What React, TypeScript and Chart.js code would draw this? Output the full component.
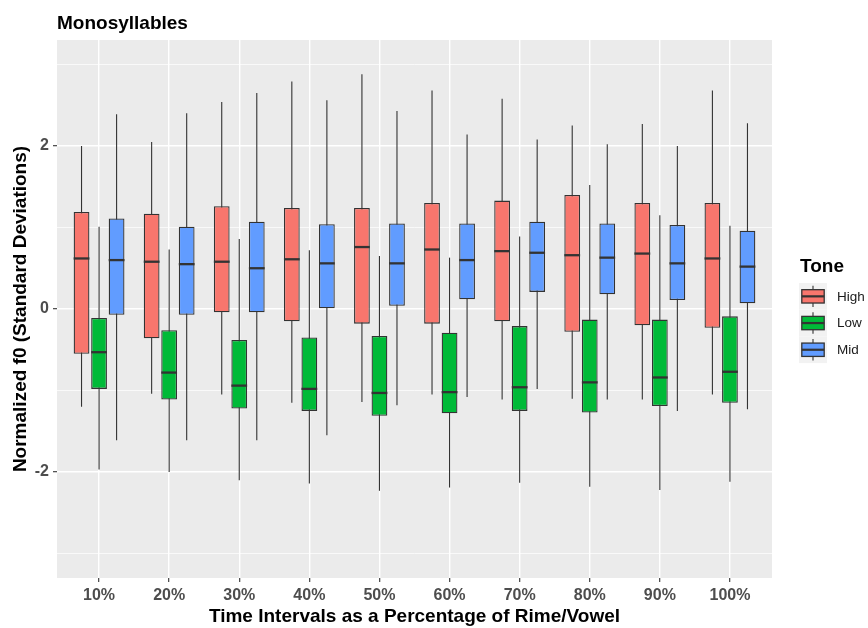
import React, { useEffect, useRef } from 'react';
import { Chart, registerables } from 'chart.js';

Chart.register(...registerables);

// Time points along the rime/vowel
const categories = ['10%', '20%', '30%', '40%', '50%', '60%', '70%', '80%', '90%', '100%'];
const tones = ['High', 'Low', 'Mid'];
const toneColors = ['#F8766D', '#00BA38', '#619CFF'];

// High tone: whisker ends, quartiles and median
const highLower = [-1.2, -1.04, -1.05, -1.15, -1.14, -1.05, -1.11, -1.1, -1.11, -1.05];
const highQ1 = [-0.55, -0.36, -0.04, -0.15, -0.18, -0.18, -0.15, -0.28, -0.2, -0.23];
const highMedian = [0.62, 0.58, 0.58, 0.61, 0.76, 0.73, 0.71, 0.66, 0.68, 0.62];
const highQ3 = [1.19, 1.17, 1.26, 1.24, 1.24, 1.3, 1.33, 1.4, 1.3, 1.3];
const highUpper = [2.0, 2.05, 2.54, 2.79, 2.88, 2.68, 2.58, 2.25, 2.27, 2.68];

// Low tone
const lowLower = [-1.97, -2.0, -2.1, -2.14, -2.23, -2.19, -2.13, -2.18, -2.22, -2.12];
const lowQ1 = [-0.98, -1.11, -1.22, -1.25, -1.31, -1.28, -1.25, -1.27, -1.19, -1.15];
const lowMedian = [-0.53, -0.78, -0.94, -0.98, -1.03, -1.02, -0.96, -0.9, -0.84, -0.77];
const lowQ3 = [-0.11, -0.26, -0.38, -0.35, -0.33, -0.29, -0.21, -0.13, -0.13, -0.09];
const lowUpper = [1.01, 0.73, 0.86, 0.72, 0.65, 0.63, 0.89, 1.52, 1.15, 1.02];

// Mid tone
const midLower = [-1.61, -1.61, -1.61, -1.55, -1.18, -1.08, -0.98, -1.11, -1.25, -1.23];
const midQ1 = [-0.07, -0.07, -0.04, 0.0, 0.04, 0.12, 0.21, 0.18, 0.11, 0.07];
const midMedian = [0.6, 0.55, 0.5, 0.56, 0.56, 0.6, 0.69, 0.63, 0.56, 0.52];
const midQ3 = [1.11, 1.01, 1.07, 1.04, 1.05, 1.05, 1.07, 1.05, 1.03, 0.96];
const midUpper = [2.39, 2.4, 2.65, 2.56, 2.43, 2.14, 2.08, 2.02, 2.0, 2.28];

// Y axis: gridlines every unit, labels on even values
const yTickValues = [-3, -2, -1, 0, 1, 2, 3];

const boxStats = [
  { lower: highLower, q1: highQ1, median: highMedian, q3: highQ3, upper: highUpper },
  { lower: lowLower, q1: lowQ1, median: lowMedian, q3: lowQ3, upper: lowUpper },
  { lower: midLower, q1: midQ1, median: midMedian, q3: midQ3, upper: midUpper },
];

const FONT = '"Liberation Sans", Arial, Helvetica, sans-serif';
const INK = '#333333';

// Grey panel behind the plotting area and the plot title
const panelPlugin = {
  id: 'panel',
  beforeDraw(chart: any) {
    const { ctx, chartArea } = chart;
    ctx.save();
    ctx.fillStyle = '#FFFFFF';
    ctx.fillRect(0, 0, chart.width, chart.height);
    ctx.fillStyle = '#EBEBEB';
    ctx.fillRect(chartArea.left, chartArea.top, chartArea.right - chartArea.left, chartArea.bottom - chartArea.top);
    ctx.restore();
  },
  afterDraw(chart: any) {
    const { ctx, chartArea } = chart;
    ctx.save();
    ctx.fillStyle = '#000000';
    ctx.font = `bold 19px ${FONT}`;
    ctx.textAlign = 'left';
    ctx.textBaseline = 'alphabetic';
    ctx.fillText('Monosyllables', chartArea.left, 29);
    ctx.restore();
  },
};

// Whiskers behind the boxes, medians on top of them
const boxPlotPlugin = {
  id: 'boxplot',
  beforeDatasetsDraw(chart: any) {
    const { ctx } = chart;
    const yScale = chart.scales.y;
    ctx.save();
    ctx.strokeStyle = INK;
    ctx.lineWidth = 1.1;
    chart.data.datasets.forEach((_: any, di: number) => {
      const meta = chart.getDatasetMeta(di);
      const s = boxStats[di];
      meta.data.forEach((bar: any, i: number) => {
        const { x } = bar.getProps(['x'], true);
        ctx.beginPath();
        ctx.moveTo(x, yScale.getPixelForValue(s.upper[i]));
        ctx.lineTo(x, yScale.getPixelForValue(s.lower[i]));
        ctx.stroke();
      });
    });
    ctx.restore();
  },
  afterDatasetsDraw(chart: any) {
    const { ctx } = chart;
    const yScale = chart.scales.y;
    ctx.save();
    ctx.strokeStyle = INK;
    ctx.lineWidth = 2.3;
    chart.data.datasets.forEach((_: any, di: number) => {
      const meta = chart.getDatasetMeta(di);
      const s = boxStats[di];
      meta.data.forEach((bar: any, i: number) => {
        const { x, width } = bar.getProps(['x', 'width'], true);
        const y = yScale.getPixelForValue(s.median[i]);
        ctx.beginPath();
        ctx.moveTo(x - width / 2, y);
        ctx.lineTo(x + width / 2, y);
        ctx.stroke();
      });
    });
    ctx.restore();
  },
};

// Legend with boxplot glyph keys
const toneLegendPlugin = {
  id: 'toneLegend',
  afterDraw(chart: any) {
    const { ctx } = chart;
    const left = 799;
    const top = 283;
    const keyW = 28;
    const keyH = 26.7;
    ctx.save();
    ctx.fillStyle = '#000000';
    ctx.font = `bold 19px ${FONT}`;
    ctx.textAlign = 'left';
    ctx.textBaseline = 'alphabetic';
    ctx.fillText('Tone', 800, 272);
    tones.forEach((tone, i) => {
      const ky = top + i * keyH;
      ctx.fillStyle = '#F2F2F2';
      ctx.fillRect(left, ky, keyW, keyH);
      const cx = left + keyW / 2;
      ctx.strokeStyle = INK;
      ctx.lineWidth = 1.1;
      ctx.beginPath();
      ctx.moveTo(cx, ky + keyH * 0.1);
      ctx.lineTo(cx, ky + keyH * 0.25);
      ctx.moveTo(cx, ky + keyH * 0.75);
      ctx.lineTo(cx, ky + keyH * 0.9);
      ctx.stroke();
      const bx = left + keyW * 0.1;
      const bw = keyW * 0.8;
      const by = ky + keyH * 0.25;
      const bh = keyH * 0.5;
      ctx.fillStyle = toneColors[i];
      ctx.fillRect(bx, by, bw, bh);
      ctx.lineWidth = 1.3;
      ctx.strokeRect(bx, by, bw, bh);
      ctx.lineWidth = 2.2;
      ctx.beginPath();
      ctx.moveTo(bx, ky + keyH / 2);
      ctx.lineTo(bx + bw, ky + keyH / 2);
      ctx.stroke();
      ctx.fillStyle = '#1A1A1A';
      ctx.font = `13.5px ${FONT}`;
      ctx.textBaseline = 'middle';
      ctx.fillText(tone, 837, ky + keyH / 2 + 0.5);
      ctx.textBaseline = 'alphabetic';
    });
    ctx.restore();
  },
};

export default function App() {
  const canvasRef = useRef<HTMLCanvasElement | null>(null);

  useEffect(() => {
    const canvas = canvasRef.current;
    if (!canvas) return;

    const datasets = boxStats.map((s, di) => ({
      label: tones[di],
      data: categories.map((_, i) => ({ x: i + 1, y: [s.q1[i], s.q3[i]] })),
      backgroundColor: toneColors[di],
      borderColor: INK,
      borderWidth: 1.3,
      borderSkipped: false,
      categoryPercentage: 0.75,
      barPercentage: 0.9,
    }));

    const chart = new Chart(canvas, {
      type: 'bar',
      data: { datasets } as any,
      options: {
        responsive: false,
        animation: false,
        events: [],
        layout: { padding: { top: 40, right: 96, left: 0, bottom: 0 } },
        plugins: {
          legend: { display: false },
          tooltip: { enabled: false },
          title: { display: false },
        },
        scales: {
          x: {
            type: 'linear',
            min: 0.4,
            max: 10.6,
            offset: false,
            afterBuildTicks: (scale: any) => {
              scale.ticks = categories.map((_, i) => ({ value: i + 1 }));
            },
            afterFit: (scale: any) => {
              scale.height = 50;
            },
            grid: {
              offset: false,
              color: '#FFFFFF',
              lineWidth: 1.4,
              drawTicks: true,
              tickLength: 4,
              tickColor: INK,
              tickWidth: 1.1,
            },
            border: { display: false },
            ticks: {
              autoSkip: false,
              maxRotation: 0,
              padding: 4,
              color: '#4D4D4D',
              font: { family: FONT, size: 16, weight: 'bold' },
              callback: (v: any) => categories[Math.round(Number(v)) - 1] ?? '',
            },
            title: {
              display: true,
              text: 'Time Intervals as a Percentage of Rime/Vowel',
              color: '#000000',
              font: { family: FONT, size: 19, weight: 'bold' },
              padding: { top: 0, bottom: 0 },
            },
          },
          y: {
            min: -3.3,
            max: 3.3,
            afterBuildTicks: (scale: any) => {
              scale.ticks = yTickValues.map((v) => ({ value: v }));
            },
            afterFit: (scale: any) => {
              scale.width = 57;
            },
            grid: {
              color: '#FFFFFF',
              lineWidth: (ctx: any) => (ctx.tick && ctx.tick.value % 2 === 0 ? 1.4 : 0.7),
              drawTicks: true,
              tickLength: 4,
              tickColor: (ctx: any) => (ctx.tick && ctx.tick.value % 2 === 0 ? INK : 'rgba(0,0,0,0)'),
              tickWidth: 1.1,
            },
            border: { display: false },
            ticks: {
              padding: 4,
              color: '#4D4D4D',
              font: { family: FONT, size: 16, weight: 'bold' },
              callback: (v: any) => (Number(v) % 2 === 0 ? String(v) : ''),
            },
            title: {
              display: true,
              text: 'Normalized f0 (Standard Deviations)',
              color: '#000000',
              font: { family: FONT, size: 19, weight: 'bold' },
              padding: { top: 9, bottom: 0 },
            },
          },
        },
      } as any,
      plugins: [panelPlugin, boxPlotPlugin, toneLegendPlugin],
    });

    return () => chart.destroy();
  }, []);

  return (
    <div style={{ position: 'fixed', left: 0, top: 0, width: 868, height: 628, background: '#FFFFFF' }}>
      <canvas ref={canvasRef} width={868} height={628} style={{ display: 'block' }} />
    </div>
  );
}
